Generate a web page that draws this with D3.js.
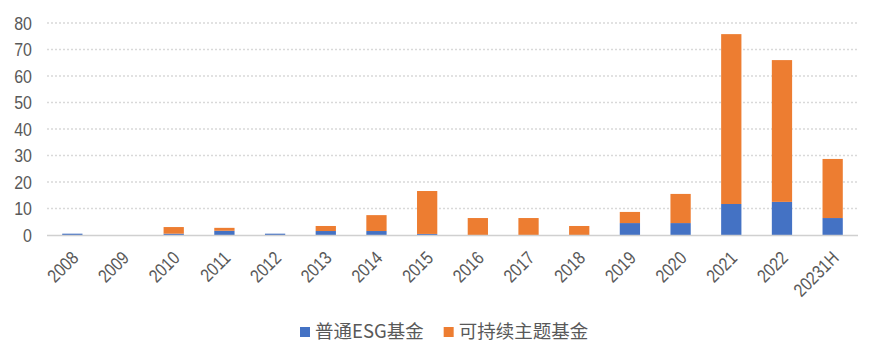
<!DOCTYPE html>
<html lang="zh">
<head>
<meta charset="utf-8">
<title>ESG基金数量</title>
<script src="https://d3js.org/d3.v7.min.js"></script>
<style>
  body { margin: 0; background: #fff; }
  .axis-label { font-family: "Liberation Sans", Arial, sans-serif; fill: #595959; }
  .legend-text { font-family: "Noto Sans CJK SC", sans-serif; fill: #595959; font-size: 18.5px; }
</style>
</head>
<body>
<div id="chart"></div>
<script>
// 年份
var years = ["2008","2009","2010","2011","2012","2013","2014","2015","2016","2017","2018","2019","2020","2021","2022","20231H"];
// 普通ESG基金
var esgFunds = [0.5, 0, 0.5, 1.6, 0.5, 1.5, 1.5, 0.4, 0, 0, 0, 4.5, 4.5, 11.7, 12.5, 6.4];
// 可持续主题基金
var themeFunds = [0, 0, 2.5, 1.1, 0, 1.9, 6, 16.2, 6.4, 6.4, 3.4, 4.2, 11, 64.1, 53.5, 22.3];
var seriesNames = ["普通ESG基金", "可持续主题基金"];
var seriesColors = ["#4472C4", "#ED7D31"];
var yTicks = [0, 10, 20, 30, 40, 50, 60, 70, 80];

var w = 881, h = 361;
var narrow = 0.84; // 模拟窄字体
var svg = d3.select("#chart").append("svg")
    .attr("width", w)
    .attr("height", h);

var x = d3.scaleBand()
    .domain(years)
    .range([47, 858])
    .paddingInner(0.6)
    .paddingOuter(0.3);

var y = d3.scaleLinear()
    .domain([0, 80])
    .range([235, 23]);

// 网格线
svg.append("g").selectAll("line")
    .data(yTicks.filter(function(d) { return d > 0; }))
    .enter().append("line")
    .attr("x1", 47).attr("x2", 858)
    .attr("y1", function(d) { return y(d); })
    .attr("y2", function(d) { return y(d); })
    .attr("stroke", "#d9d9d9")
    .attr("stroke-width", 1.6)
    .attr("stroke-dasharray", "2,2");

// y轴刻度
svg.append("g").selectAll("text")
    .data(yTicks)
    .enter().append("text")
    .attr("class", "axis-label")
    .attr("transform", function(d) { return "translate(32," + y(d) + ") scale(" + narrow + ",1)"; })
    .attr("dy", "0.36em")
    .attr("text-anchor", "end")
    .attr("font-size", "19px")
    .text(function(d) { return d; });

// 堆叠数据
var rows = years.map(function(yr, i) {
    return { year: yr, esg: esgFunds[i], theme: themeFunds[i] };
});
var stack = d3.stack().keys(["esg", "theme"]);
var layers = stack(rows);

svg.append("g").selectAll("g")
    .data(layers)
    .enter().append("g")
    .attr("fill", function(d, i) { return seriesColors[i]; })
    .selectAll("rect")
    .data(function(d) { return d; })
    .enter().append("rect")
    .attr("x", function(d) { return x(d.data.year); })
    .attr("width", x.bandwidth())
    .attr("y", function(d) { return y(d[1]); })
    .attr("height", function(d) { return y(d[0]) - y(d[1]); });

// x轴线
svg.append("line")
    .attr("x1", 47).attr("x2", 858)
    .attr("y1", y(0) + 0.5).attr("y2", y(0) + 0.5)
    .attr("stroke", "#d0d0d0")
    .attr("stroke-width", 1.5);

// x轴标签，旋转45度
svg.append("g").selectAll("text")
    .data(years)
    .enter().append("text")
    .attr("class", "axis-label")
    .attr("font-size", "18.5px")
    .attr("text-anchor", "end")
    .attr("transform", function(d) {
        var cx = x(d) + x.bandwidth() / 2 - 2;
        return "translate(" + cx + "," + 250 + ") rotate(-45) scale(" + narrow + ",1)";
    })
    .attr("dy", "0.7em")
    .text(function(d) { return d; });

// 图例
var legend = svg.append("g");
var lx = 300;
seriesNames.forEach(function(name, i) {
    var item = legend.append("g").attr("transform", "translate(" + lx + ",0)");
    item.append("rect")
        .attr("x", 0).attr("y", 327)
        .attr("width", 10).attr("height", 10)
        .attr("fill", seriesColors[i]);
    var t = item.append("text")
        .attr("class", "legend-text")
        .attr("x", 15)
        .attr("y", 332)
        .attr("dy", "0.35em")
        .text(name);
    lx += 15 + t.node().getComputedTextLength() + 20;
});
</script>
</body>
</html>
